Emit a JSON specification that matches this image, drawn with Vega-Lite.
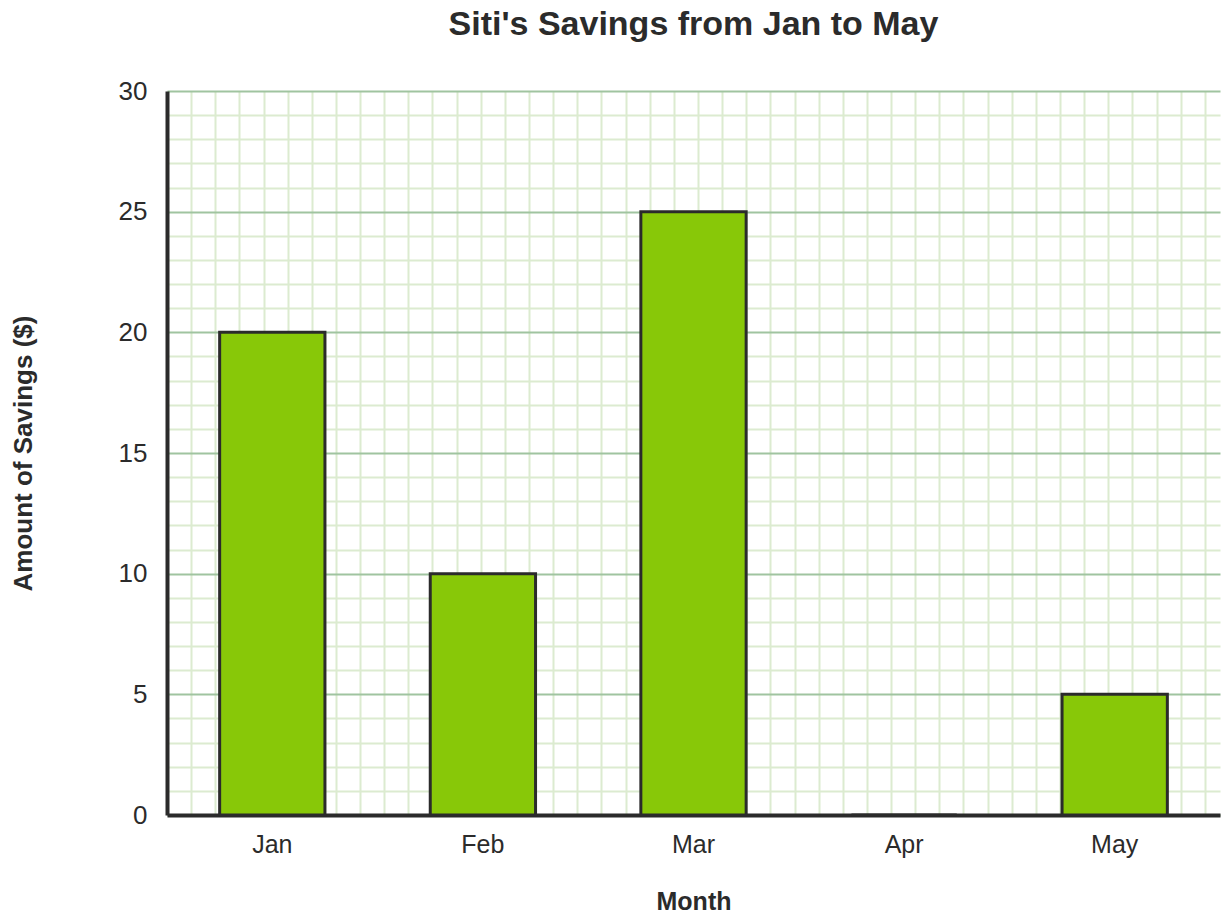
{
  "$schema": "https://vega.github.io/schema/vega-lite/v6.json",
  "description": "Siti's savings from January to May",
  "autosize": {"type": "none"},
  "width": 1053,
  "height": 724,
  "padding": {"left": 167, "top": 91, "right": 9, "bottom": 106},
  "background": "white",
  "config": {
    "font": "Liberation Sans",
    "view": {"stroke": null}
  },
  "title": {
    "text": "Siti's Savings from Jan to May",
    "fontSize": 34,
    "fontWeight": "bold",
    "color": "#2b2b2b",
    "anchor": "middle",
    "offset": 36
  },
  "data": {
    "values": [
      {"month": "Jan", "savings": 20},
      {"month": "Feb", "savings": 10},
      {"month": "Mar", "savings": 25},
      {"month": "Apr", "savings": 0},
      {"month": "May", "savings": 5}
    ]
  },
  "layer": [
    {
      "mark": {"type": "rule", "opacity": 0},
      "encoding": {
        "x": {
          "datum": 0,
          "type": "quantitative",
          "scale": {"domain": [0, 43.63], "nice": false, "zero": false},
          "axis": {
            "orient": "top",
            "values": [1,2,3,4,5,6,7,8,9,10,11,12,13,14,15,16,17,18,19,20,21,22,23,24,25,26,27,28,29,30,31,32,33,34,35,36,37,38,39,40,41,42,43],
            "grid": true,
            "gridColor": "#dcebd0",
            "gridWidth": 2,
            "gridOpacity": 1,
            "labels": false,
            "ticks": false,
            "domain": false,
            "title": null,
            "minExtent": 0,
            "maxExtent": 0
          }
        }
      }
    },
    {
      "mark": {"type": "rule", "opacity": 0},
      "encoding": {
        "y": {
          "datum": 0,
          "type": "quantitative",
          "scale": {"domain": [0, 30], "nice": false},
          "axis": {
            "orient": "right",
            "values": [1,2,3,4,6,7,8,9,11,12,13,14,16,17,18,19,21,22,23,24,26,27,28,29],
            "grid": true,
            "gridColor": "#dcebd0",
            "gridWidth": 2,
            "gridOpacity": 1,
            "labels": false,
            "ticks": false,
            "domain": false,
            "title": null,
            "minExtent": 0,
            "maxExtent": 0
          }
        }
      }
    },
    {
      "mark": {"type": "bar", "fill": "#88c808", "stroke": "#2b2b2b", "strokeWidth": 3},
      "encoding": {
        "x": {
          "field": "month",
          "type": "nominal",
          "sort": null,
          "scale": {"paddingInner": 0.5, "paddingOuter": 0.25},
          "axis": {
            "title": "Month",
            "titleFontSize": 25,
            "titleFontWeight": "bold",
            "titleColor": "#2b2b2b",
            "titlePadding": 32,
            "labelFontSize": 25,
            "labelColor": "#2b2b2b",
            "labelAngle": 0,
            "labelPadding": 17,
            "ticks": false,
            "grid": false,
            "domainColor": "#2b2b2b",
            "domainWidth": 4
          }
        },
        "y": {
          "field": "savings",
          "type": "quantitative",
          "scale": {"domain": [0, 30], "nice": false},
          "axis": {
            "title": "Amount of Savings ($)",
            "titleFontSize": 26,
            "titleFontWeight": "bold",
            "titleColor": "#2b2b2b",
            "titlePadding": 82,
            "values": [0, 5, 10, 15, 20, 25, 30],
            "labelFontSize": 26,
            "labelColor": "#2b2b2b",
            "labelPadding": 20,
            "ticks": false,
            "grid": true,
            "gridColor": "#a0c4a0",
            "gridWidth": 2,
            "gridOpacity": 1,
            "domainColor": "#2b2b2b",
            "domainWidth": 4
          }
        }
      }
    }
  ],
  "resolve": {"scale": {"x": "independent", "y": "independent"}, "axis": {"x": "independent", "y": "independent"}}
}
